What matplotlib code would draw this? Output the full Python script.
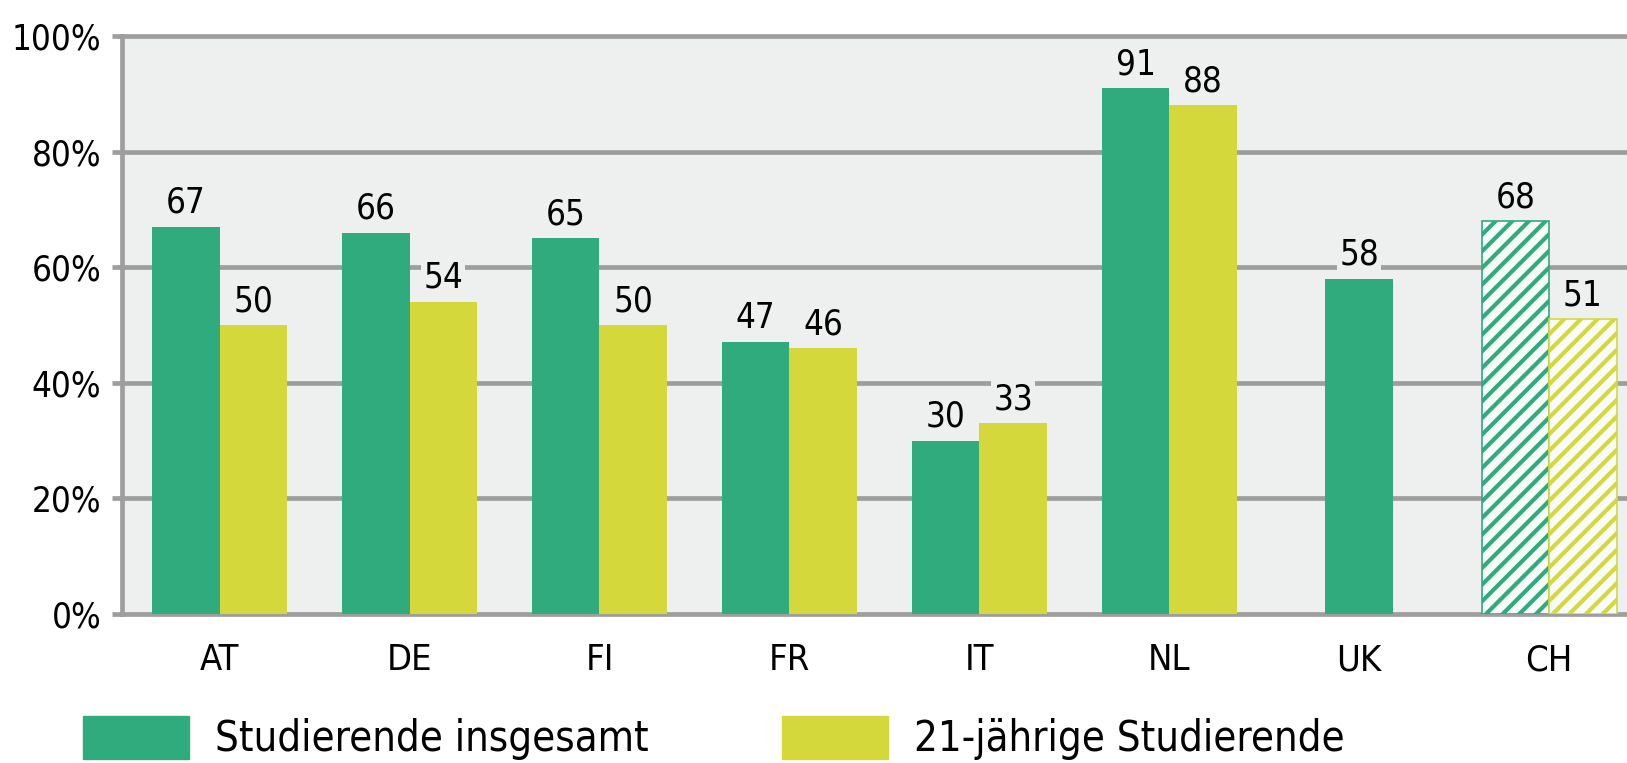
import numpy as np
import matplotlib
matplotlib.use("Agg")
import matplotlib.pyplot as plt
from matplotlib.patches import Patch
from matplotlib.ticker import FuncFormatter

plt.rcParams['font.family'] = ['DejaVu Sans']
plt.rcParams['font.stretch'] = 'condensed'

countries = ["AT", "DE", "FI", "FR", "IT", "NL", "UK", "CH"]
total = [67, 66, 65, 47, 30, 91, 58, 68]
young = [50, 54, 50, 46, 33, 88, np.nan, 51]
hatched = ["CH"]

green = '#30ab7e'
yellow = '#d4d83b'
bg = '#eef0ef'
grid = '#9e9e9e'

fig = plt.figure(figsize=(16.27, 7.63), dpi=100)
ax = fig.add_axes([0.075, 0.1953, 0.925, 0.7575])
ax.set_facecolor(bg)

w = 0.355
x = np.arange(len(countries))
plt.rcParams['hatch.linewidth'] = 3.0

for i, c in enumerate(countries):
    has_young = not np.isnan(young[i])
    xg = x[i] - w / 2 if has_young else x[i]
    h = c in hatched
    bars = [(xg, total[i], green)]
    if has_young:
        bars.append((x[i] + w / 2, young[i], yellow))
    for bx, val, col in bars:
        if h:
            ax.bar(bx, val, w, facecolor='#f7fcfb', edgecolor=col, hatch='//',
                   linewidth=1.2, zorder=3)
        else:
            ax.bar(bx, val, w, color=col, linewidth=0, zorder=3)
        ax.text(bx, val + 1.2, f"{val:.0f}", ha='center', va='bottom', fontsize=25,
                zorder=4, bbox=dict(facecolor=bg, edgecolor='none', pad=1.5))

ax.set_xlim(-0.514, 7.41)
ax.set_ylim(0, 100)
ax.set_yticks([0, 20, 40, 60, 80, 100])
ax.yaxis.set_major_formatter(FuncFormatter(lambda v, p: f"{v:.0f}%"))
ax.set_xticks(x)
ax.set_xticklabels(countries)
ax.tick_params(axis='x', length=0, pad=21, labelsize=26)
ax.tick_params(axis='y', length=7, width=3.4, color=grid, pad=8, labelsize=25)
ax.grid(axis='y', color=grid, linewidth=3.4, zorder=1)
ax.set_axisbelow(True)
for gl in ax.yaxis.get_gridlines():
    gl.set_clip_on(False)
for s in ['top', 'right', 'bottom']:
    ax.spines[s].set_visible(False)
ax.spines['left'].set_color(grid)
ax.spines['left'].set_linewidth(3.4)

handles = [Patch(color=green, label="Studierende insgesamt"),
           Patch(color=yellow, label="21-jährige Studierende")]
fig.legend(handles=handles, loc='upper left', bbox_to_anchor=(0.051, 0.0616), ncol=2,
           frameon=False, fontsize=30, handlelength=2.55, handleheight=1.2,
           borderpad=0, borderaxespad=0, columnspacing=3.2, handletextpad=0.62)

fig.savefig("out.png", dpi=100)
